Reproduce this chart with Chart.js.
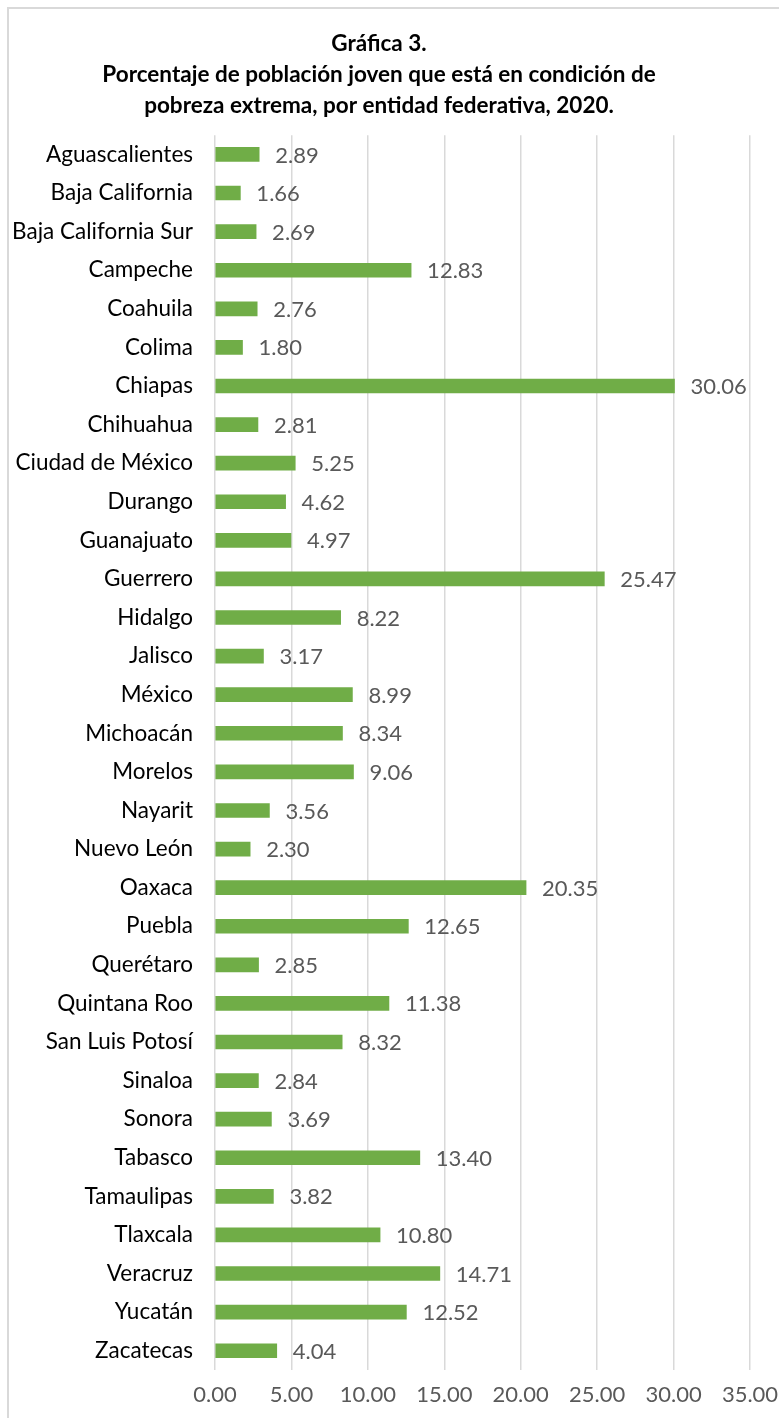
<!DOCTYPE html>
<html>
<head>
<meta charset="utf-8">
<script src="https://cdn.jsdelivr.net/npm/chart.js@4"></script>
<style>
  body { margin: 0; background: #fff; overflow: hidden; }
  #frame { position: absolute; left: 7px; top: 7px; width: 800px; height: 1440px; border: 2px solid #d9d9d9; }
  #wrap { position: absolute; left: 0; top: 0; width: 779px; height: 1418px; }
</style>
</head>
<body>
<div id="frame"></div>
<div id="wrap"><canvas id="barChart"></canvas></div>
<script>
const states = [
  "Aguascalientes", "Baja California", "Baja California Sur", "Campeche", "Coahuila",
  "Colima", "Chiapas", "Chihuahua", "Ciudad de México", "Durango", "Guanajuato",
  "Guerrero", "Hidalgo", "Jalisco", "México", "Michoacán", "Morelos", "Nayarit",
  "Nuevo León", "Oaxaca", "Puebla", "Querétaro", "Quintana Roo", "San Luis Potosí",
  "Sinaloa", "Sonora", "Tabasco", "Tamaulipas", "Tlaxcala", "Veracruz", "Yucatán", "Zacatecas"
];
const values = [
  2.89, 1.66, 2.69, 12.83, 2.76, 1.80, 30.06, 2.81, 5.25, 4.62, 4.97,
  25.47, 8.22, 3.17, 8.99, 8.34, 9.06, 3.56, 2.30, 20.35, 12.65, 2.85,
  11.38, 8.32, 2.84, 3.69, 13.40, 3.82, 10.80, 14.71, 12.52, 4.04
];
const titleLines = [
  "Gráfica 3.",
  "Porcentaje de población joven que está en condición de",
  "pobreza extrema, por entidad federativa, 2020."
];

const FONT = "Lato";

// value labels drawn at the end of each bar
const barLabels = {
  id: "barLabels",
  afterDatasetsDraw(chart) {
    const ctx = chart.ctx;
    const meta = chart.getDatasetMeta(0);
    ctx.save();
    ctx.font = "22px " + FONT;
    ctx.fillStyle = "#595959";
    ctx.textAlign = "left";
    ctx.textBaseline = "middle";
    meta.data.forEach((bar, i) => {
      ctx.fillText(values[i].toFixed(2), bar.x + 16, bar.y + 1);
    });
    ctx.restore();
  },
};

const ctx = document.getElementById("barChart").getContext("2d");
new Chart(ctx, {
  type: "bar",
  data: {
    labels: states,
    datasets: [
      {
        data: values,
        backgroundColor: "#70ad47",
        barThickness: 14,
      },
    ],
  },
  options: {
    indexAxis: "y",
    responsive: true,
    maintainAspectRatio: false,
    animation: false,
    layout: { padding: { left: 8, right: 29, top: 0, bottom: 0 } },
    plugins: {
      legend: { display: false },
      tooltip: { enabled: false },
      title: {
        display: true,
        text: titleLines,
        color: "#000",
        font: { family: FONT, size: 22.5, weight: "bold", lineHeight: 1.38 },
        padding: { top: 28, bottom: 14 },
      },
    },
    scales: {
      x: {
        min: 0,
        max: 35,
        ticks: {
          stepSize: 5,
          color: "#595959",
          font: { family: FONT, size: 22 },
          padding: 12,
          callback: (v) => Number(v).toFixed(2),
        },
        grid: { color: "#d9d9d9", lineWidth: 1.5, drawTicks: false },
        border: { display: false },
        afterFit: (s) => {
          s.height = 48;
          s.paddingLeft = 0;
          s.paddingRight = 0;
        },
      },
      y: {
        ticks: {
          color: "#000",
          font: { family: FONT, size: 22.5 },
          padding: 22,
          autoSkip: false,
        },
        grid: { display: false, drawTicks: false },
        border: { display: false },
        afterFit: (s) => { s.width = 207; },
      },
    },
  },
  plugins: [barLabels],
});
</script>
</body>
</html>
